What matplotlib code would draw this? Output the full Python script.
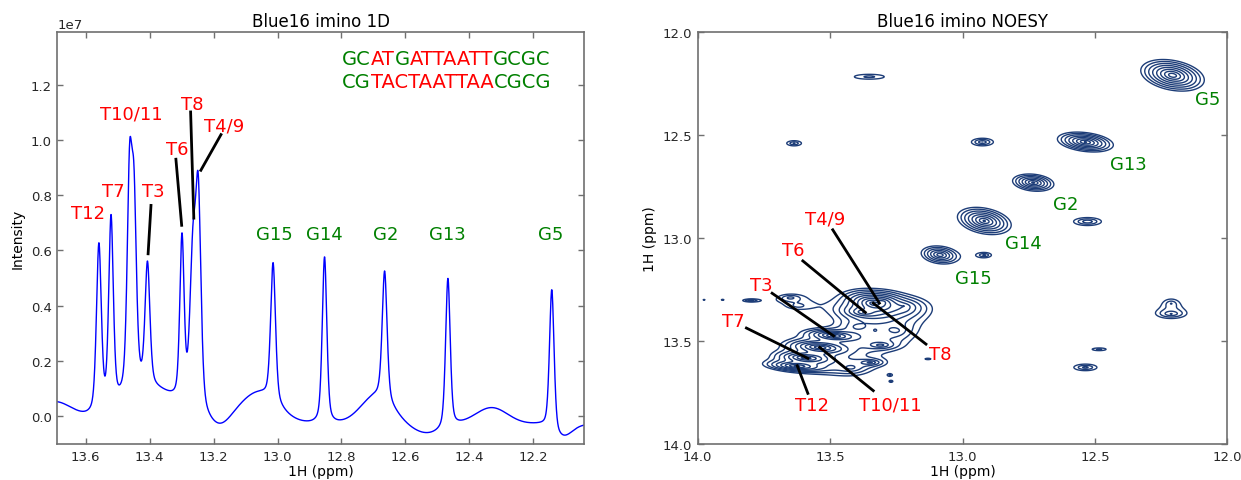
import numpy as np
import matplotlib
matplotlib.use("Agg")
import matplotlib.pyplot as plt
import matplotlib.ticker as mticker

plt.rcParams['font.family'] = ['DejaVu Sans']

# ---------------- 1D spectrum data (intensity in units of 1e7) ----------------
peak_names_1d = ['T12', 'T7', 'T10', 'T11', 'T3', 'T6', 'T8', 'T4/9',
                 'G15', 'G14', 'G2', 'G13', 'G5']
peak_ppm_1d = [13.559, 13.521, 13.463, 13.449, 13.407, 13.299, 13.265, 13.248,
               13.014, 12.853, 12.665, 12.467, 12.142]
peak_apex_1d = [0.628, 0.730, 0.985, 0.900, 0.562, 0.664, 0.688, 0.875,
                0.556, 0.577, 0.526, 0.499, 0.458]
peak_fwhm_1d = [0.018, 0.017, 0.018, 0.018, 0.018, 0.016, 0.022, 0.020,
                0.018, 0.017, 0.018, 0.017, 0.017]
lorentz_fraction = 0.45
baseline_offset = -0.03
hump_ppm = [13.70, 13.40, 13.18, 13.06, 12.69, 12.53, 12.33, 12.11]
hump_height = [0.08, 0.12, -0.03, 0.11, 0.10, -0.035, 0.06, -0.05]
hump_sigma = [0.06, 0.09, 0.03, 0.06, 0.05, 0.05, 0.05, 0.03]

lab1d_text = ['T12', 'T7', 'T10/11', 'T3', 'T6', 'T8', 'T4/9',
              'G15', 'G14', 'G2', 'G13', 'G5']
lab1d_x = [13.594, 13.514, 13.456, 13.390, 13.314, 13.268, 13.166,
           13.010, 12.853, 12.663, 12.468, 12.147]
lab1d_y = [0.735, 0.815, 1.097, 0.815, 0.968, 1.13, 1.052,
           0.658, 0.658, 0.658, 0.658, 0.658]
lab1d_color = ['red'] * 7 + ['green'] * 5
lead1d = [((13.405, 0.588), (13.396, 0.763)),
          ((13.300, 0.691), (13.318, 0.930)),
          ((13.262, 0.717), (13.272, 1.101)),
          ((13.240, 0.890), (13.177, 1.019))]

seq_top = [('GC', 'green'), ('AT', 'red'), ('G', 'green'),
           ('ATTAATT', 'red'), ('GCGC', 'green')]
seq_bot = [('CG', 'green'), ('TACTAATTAA', 'red'), ('CGCG', 'green')]

# ---------------- 2D NOESY data ----------------
# centre x, centre y (ppm), amplitude (in units of the lowest contour),
# decay widths x / y (ppm), correlation
noe_x = [12.207, 12.536, 12.733, 12.918, 13.085,                     # G diagonal
         13.626, 13.592, 13.538, 13.488, 13.375, 13.337, 13.300,     # T diagonal
         13.22, 13.349, 13.31, 13.25, 13.65, 13.42, 13.40,           # T cross
         13.55, 13.33, 13.22, 13.62,                                 # broad floor
         13.352, 13.636, 12.925, 12.528, 12.918, 12.212, 12.212,
         12.484, 12.536, 13.130, 13.800, 13.906, 13.976, 13.274, 13.270]
noe_y = [12.210, 12.534, 12.731, 12.917, 13.082,
         13.622, 13.582, 13.531, 13.474, 13.361, 13.318, 13.310,
         13.33, 13.604, 13.52, 13.45, 13.29, 13.63, 13.43,
         13.58, 13.45, 13.35, 13.33,
         12.217, 12.540, 12.534, 12.920, 13.083, 13.318, 13.368,
         13.540, 13.628, 13.587, 13.303, 13.300, 13.300, 13.665, 13.696]
noe_amp = [11.0, 9.0, 7.0, 9.0, 6.0,
           9.0, 10.0, 11.0, 9.0, 6.0, 12.0, 4.0,
           2.2, 3.0, 3.0, 1.8, 1.8, 2.0, 1.6,
           1.3, 1.3, 1.2, 1.2,
           1.6, 2.0, 2.5, 2.5, 2.0, 1.7, 2.2,
           1.6, 2.2, 1.3, 2.3, 1.3, 1.3, 1.3, 1.3]
noe_sx = [0.050, 0.048, 0.040, 0.046, 0.039,
          0.050, 0.045, 0.050, 0.045, 0.045, 0.045, 0.030,
          0.060, 0.030, 0.035, 0.060, 0.050, 0.060, 0.050,
          0.120, 0.120, 0.080, 0.080,
          0.120, 0.040, 0.045, 0.057, 0.035, 0.045, 0.055,
          0.053, 0.055, 0.020, 0.030, 0.012, 0.012, 0.012, 0.012]
noe_sy = [0.032, 0.022, 0.0215, 0.030, 0.024,
          0.012, 0.013, 0.015, 0.013, 0.018, 0.025, 0.020,
          0.030, 0.010, 0.012, 0.040, 0.020, 0.030, 0.030,
          0.070, 0.100, 0.040, 0.030,
          0.025, 0.018, 0.020, 0.021, 0.016, 0.035, 0.022,
          0.013, 0.020, 0.006, 0.007, 0.006, 0.006, 0.008, 0.008]
noe_rho = [-0.3, -0.3, -0.2, -0.3, -0.2,
           -0.3, -0.3, -0.3, -0.3, -0.2, -0.3, 0.0,
           0.0, 0.0, 0.0, 0.0, 0.0, 0.0, 0.0,
           0.0, 0.0, 0.0, 0.0,
           0.0, 0.0, 0.0, 0.0, 0.0, 0.0, 0.0,
           0.0, 0.0, 0.0, 0.0, 0.0, 0.0, 0.0, 0.0]
contour_base = 1.0
contour_factor = 1.35
contour_count = 12

lab2d_text = ['G5', 'G13', 'G2', 'G14', 'G15',
              'T4/9', 'T6', 'T3', 'T7', 'T12', 'T10/11', 'T8']
lab2d_x = [12.076, 12.374, 12.611, 12.772, 12.960,
           13.519, 13.639, 13.759, 13.865, 13.569, 13.274, 13.085]
lab2d_y = [12.323, 12.639, 12.834, 13.023, 13.196,
           12.904, 13.059, 13.227, 13.402, 13.811, 13.806, 13.563]
lab2d_color = ['green'] * 5 + ['red'] * 7
lead2d = [((13.490, 12.960), (13.314, 13.316)),
          ((13.603, 13.111), (13.367, 13.361)),
          ((13.719, 13.268), (13.487, 13.475)),
          ((13.816, 13.437), (13.584, 13.584)),
          ((13.584, 13.754), (13.624, 13.620)),
          ((13.337, 13.741), (13.539, 13.531)),
          ((13.138, 13.515), (13.337, 13.316))]

# ---------------- figure ----------------
fig = plt.figure(figsize=(12.41, 4.81), dpi=100)
ax1 = fig.add_axes([0.0462, 0.0748, 0.4247, 0.8565])
ax2 = fig.add_axes([0.5622, 0.0748, 0.4268, 0.8565])

frame_color = '#707070'
for ax in (ax1, ax2):
    for s in ax.spines.values():
        s.set_color(frame_color)
        s.set_linewidth(1.2)
    ax.tick_params(direction='in', top=True, right=True, length=4,
                   width=1, color=frame_color, labelsize=9.5,
                   labelcolor='#262626', pad=4)


# 1D spectrum: pseudo-Voigt lines whose amplitudes reproduce the read apex values
def line_shape(x, c, f):
    d = (x - c) / f
    return (lorentz_fraction / (1.0 + 4.0 * d ** 2)
            + (1.0 - lorentz_fraction) * np.exp(-4.0 * np.log(2.0) * d ** 2))


def baseline(x):
    x = np.asarray(x, dtype=float)
    b = np.full_like(x, baseline_offset)
    for c, h, s in zip(hump_ppm, hump_height, hump_sigma):
        b = b + h * np.exp(-0.5 * ((x - c) / s) ** 2)
    return b


centres = np.array(peak_ppm_1d)
M = np.array([[line_shape(ci, cj, fj) for cj, fj in zip(peak_ppm_1d, peak_fwhm_1d)]
              for ci in centres])
amps = np.linalg.solve(M, np.array(peak_apex_1d) - baseline(centres))

ppm = np.linspace(13.689, 12.040, 3300)
spec = baseline(ppm)
for a, c, f in zip(amps, peak_ppm_1d, peak_fwhm_1d):
    spec = spec + a * line_shape(ppm, c, f)
ax1.plot(ppm, spec * 1e7, color='blue', lw=1.0)
ax1.set_xlim(13.689, 12.040)
ax1.set_ylim(-0.1e7, 1.39e7)
ax1.set_xticks([13.6, 13.4, 13.2, 13.0, 12.8, 12.6, 12.4, 12.2])
ax1.set_yticks(np.arange(0, 1.21e7, 0.2e7))
ax1.yaxis.get_offset_text().set_fontsize(9.5)
ax1.set_title('Blue16 imino 1D', fontsize=12, pad=4)
ax1.set_xlabel('1H (ppm)', fontsize=10, labelpad=1)
ax1.set_ylabel('Intensity', fontsize=10, labelpad=4)
for t, x, y, c in zip(lab1d_text, lab1d_x, lab1d_y, lab1d_color):
    ax1.text(x, y * 1e7, t, color=c, fontsize=13, ha='center', va='center')
for (a, b) in lead1d:
    ax1.plot([a[0], b[0]], [a[1] * 1e7, b[1] * 1e7], color='black', lw=2)


def seq_line(ax, parts, x, y):
    txt = ax.text(x, y, parts[0][0], color=parts[0][1], fontsize=14,
                  transform=ax.transAxes, va='bottom', ha='left')
    for s, c in parts[1:]:
        txt = ax.annotate(s, xycoords=txt, xy=(1, 0), va='bottom',
                          ha='left', color=c, fontsize=14)


seq_line(ax1, seq_top, 0.540, 0.912)
seq_line(ax1, seq_bot, 0.540, 0.858)

# 2D NOESY
gx = np.linspace(12.0, 14.0, 900)
gy = np.linspace(12.0, 14.0, 900)
X, Y = np.meshgrid(gx, gy)
Z = np.zeros_like(X)
for x0, y0, a, sx, sy, r in zip(noe_x, noe_y, noe_amp, noe_sx, noe_sy, noe_rho):
    dx = (X - x0) / sx
    dy = (Y - y0) / sy
    q = (dx ** 2 - 2 * r * dx * dy + dy ** 2) / (1 - r ** 2)
    Z += a * np.exp(-np.sqrt(q))
levels = contour_base * contour_factor ** np.arange(contour_count)
ax2.contour(X, Y, Z, levels=levels, colors='#1d3d78', linewidths=1.0)
ax2.set_xlim(14.0, 12.0)
ax2.set_ylim(14.0, 12.0)
ax2.set_xticks([14.0, 13.5, 13.0, 12.5, 12.0])
ax2.set_yticks([12.0, 12.5, 13.0, 13.5, 14.0])
ax2.xaxis.set_major_formatter(mticker.FormatStrFormatter('%.1f'))
ax2.yaxis.set_major_formatter(mticker.FormatStrFormatter('%.1f'))
ax2.set_title('Blue16 imino NOESY', fontsize=12, pad=4)
ax2.set_xlabel('1H (ppm)', fontsize=10, labelpad=1)
ax2.set_ylabel('1H (ppm)', fontsize=10, labelpad=4)
for (a, b) in lead2d:
    ax2.plot([a[0], b[0]], [a[1], b[1]], color='black', lw=2)
for t, x, y, c in zip(lab2d_text, lab2d_x, lab2d_y, lab2d_color):
    ax2.text(x, y, t, color=c, fontsize=13, ha='center', va='center')

fig.savefig('out.png', dpi=100, facecolor='white')
